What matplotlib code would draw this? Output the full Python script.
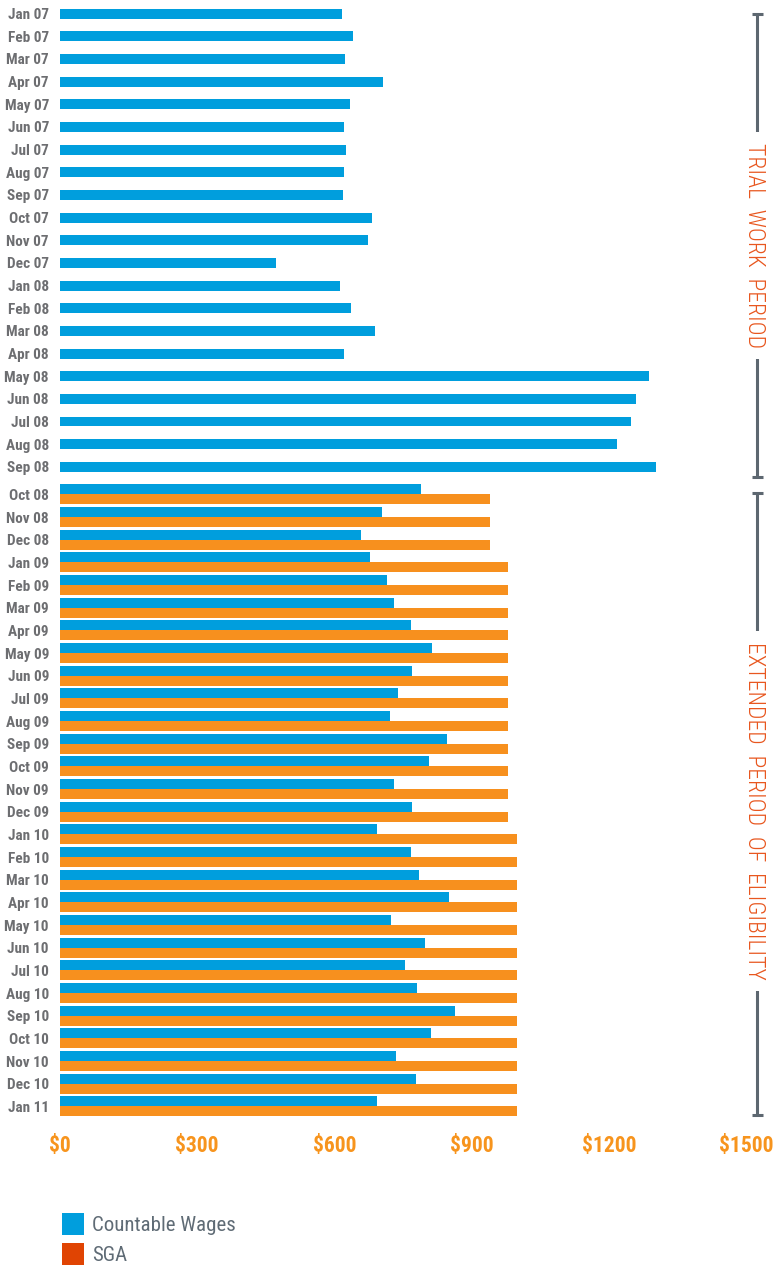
import matplotlib
matplotlib.use("Agg")
import matplotlib.pyplot as plt
import matplotlib.transforms as mtransforms
from matplotlib.patches import Patch
import numpy as np

# ---------------- data ----------------
months = [
    "Jan 07", "Feb 07", "Mar 07", "Apr 07", "May 07", "Jun 07", "Jul 07", "Aug 07",
    "Sep 07", "Oct 07", "Nov 07", "Dec 07",
    "Jan 08", "Feb 08", "Mar 08", "Apr 08", "May 08", "Jun 08", "Jul 08", "Aug 08",
    "Sep 08", "Oct 08", "Nov 08", "Dec 08",
    "Jan 09", "Feb 09", "Mar 09", "Apr 09", "May 09", "Jun 09", "Jul 09", "Aug 09",
    "Sep 09", "Oct 09", "Nov 09", "Dec 09",
    "Jan 10", "Feb 10", "Mar 10", "Apr 10", "May 10", "Jun 10", "Jul 10", "Aug 10",
    "Sep 10", "Oct 10", "Nov 10", "Dec 10",
    "Jan 11",
]
wages = [
    617, 641, 622, 706, 635, 620, 625, 621, 619, 683, 674, 473,
    612, 636, 688, 620, 1288, 1259, 1248, 1218, 1304, 789, 704, 657,
    678, 715, 730, 767, 814, 769, 740, 721, 846, 807, 730, 770,
    693, 767, 785, 850, 724, 797, 754, 780, 864, 811, 734, 778,
    693,
]
# SGA threshold for the months of the extended period of eligibility (Oct 08 - Jan 11)
sga = [
    940, 940, 940,
    980, 980, 980, 980, 980, 980, 980, 980, 980, 980, 980, 980,
    1000, 1000, 1000, 1000, 1000, 1000, 1000, 1000, 1000, 1000, 1000, 1000,
    1000,
]
x_ticks = [0, 300, 600, 900, 1200, 1500]
x_tick_labels = ["$0", "$300", "$600", "$900", "$1200", "$1500"]
series_names = ["Countable Wages", "SGA"]
period_names = ["TRIAL  WORK  PERIOD", "EXTENDED  PERIOD  OF  ELIGIBILITY"]

# ---------------- style ----------------
BLUE = "#009edd"
ORANGE = "#f7901e"
SGA_LEGEND = "#e04403"
GREY_TXT = "#6d6e71"
LEG_TXT = "#5f6b75"
BRACKET = "#5d6770"
PERIOD_TXT = "#e8561e"
TICK_ORANGE = "#f7941d"

NARROW = ["Roboto Condensed", "Roboto", "DejaVu Sans"]

W, H = 776, 1266
fig = plt.figure(figsize=(W / 100, H / 100), dpi=100)
ax_left, ax_right = 60, 746.1
ax_top, ax_bottom = 0, 1124
ax = fig.add_axes([ax_left / W, 1 - ax_bottom / H,
                   (ax_right - ax_left) / W, (ax_bottom - ax_top) / H])

n = len(months)
rows = np.arange(n)
h = 0.44
epe_start = n - len(sga)

ax.barh(rows, wages, height=h, color=BLUE, linewidth=0)
ax.barh(rows[epe_start:] + h, sga, height=h, color=ORANGE, linewidth=0)

tick_pos = np.concatenate([rows[:epe_start], rows[epe_start:] + h / 2])
ax.set_yticks(tick_pos)
ax.set_yticklabels(months, family=NARROW, fontweight="bold", fontsize=11,
                   color=GREY_TXT)
ax.set_xticks(x_ticks)
ax.set_xticklabels(x_tick_labels, family=NARROW, fontweight="bold",
                   fontsize=15.5, color=TICK_ORANGE)
ax.tick_params(axis="y", length=0, pad=8)
ax.tick_params(axis="x", length=0, pad=8)
ax.set_xlim(0, 1500)
ax.set_ylim(49.0, -0.6)
for s in ax.spines.values():
    s.set_visible(False)

# ---------------- period brackets ----------------
trans = mtransforms.blended_transform_factory(ax.transAxes, ax.transData)
def px2ax(px):
    return (px - ax_left) / (ax_right - ax_left)

line_x = px2ax(757.2)
cap_l, cap_r = px2ax(751.5), px2ax(763)
brackets = [(0.0, 20.45, 10.22), (21.16, 48.6, 35.2)]
for (y0, y1, yc), name in zip(brackets, period_names):
    ax.plot([line_x, line_x], [y0, y1], transform=trans, color=BRACKET,
            lw=2.2, clip_on=False, solid_capstyle="butt", zorder=3)
    for yy in (y0, y1):
        ax.plot([cap_l, cap_r], [yy, yy], transform=trans, color=BRACKET,
                lw=2.2, clip_on=False, solid_capstyle="butt", zorder=3)
    ax.text(px2ax(754.5), yc, name, transform=trans, rotation=-90,
            ha="center", va="center", color=PERIOD_TXT, fontsize=17,
            family=NARROW, fontweight="light", zorder=4, clip_on=False,
            bbox=dict(facecolor="white", edgecolor="none", pad=8))

# ---------------- legend ----------------
fs = 15
fs_px = fs * 100 / 72
handles = [Patch(facecolor=BLUE, edgecolor="none"),
           Patch(facecolor=SGA_LEGEND, edgecolor="none")]
leg = fig.legend(handles, series_names, loc="upper left",
                 bbox_to_anchor=(62 / W, 1 - 1213 / H), frameon=False,
                 borderpad=0, borderaxespad=0,
                 handlelength=22 / fs_px, handleheight=1.25,
                 handletextpad=0.38, labelspacing=0.4,
                 prop={"family": NARROW, "size": fs})
for t in leg.get_texts():
    t.set_color(LEG_TXT)

fig.savefig("out.png", dpi=100)
